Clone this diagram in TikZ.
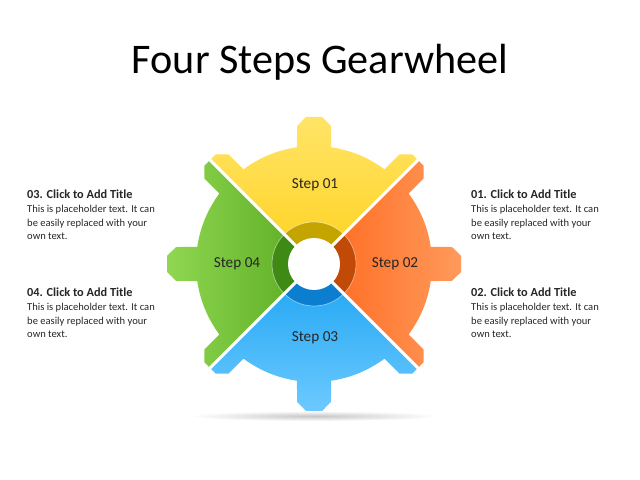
\documentclass[tikz,border=0pt]{standalone}
\usepackage{fontspec}
\setmainfont{Carlito}
\definecolor{yellowA}{RGB}{255,228,105}
\definecolor{yellowB}{RGB}{255,210,30}
\definecolor{yellowR}{RGB}{196,165,0}
\definecolor{orangeA}{RGB}{255,104,30}
\definecolor{orangeB}{RGB}{255,155,92}
\definecolor{orangeR}{RGB}{192,74,6}
\definecolor{blueA}{RGB}{26,163,242}
\definecolor{blueB}{RGB}{110,202,255}
\definecolor{blueR}{RGB}{11,126,207}
\definecolor{greenA}{RGB}{145,216,82}
\definecolor{greenB}{RGB}{88,170,32}
\definecolor{greenR}{RGB}{62,138,20}
\tikzset{
  steplabel/.style={font=\fontsize{13}{15}\selectfont, text=black!85},
  infotext/.style={anchor=north west, align=left, inner sep=0pt,
    font=\fontsize{9}{11.6}\selectfont, text=black!85},
  gap/.style={white, line width=2.6pt}
}
% outline of the gear, 8 teeth
\newcommand\gearpath{(-8.29:118) \foreach \a in {0,45,...,315}{
  -- (\a-8.29:118) -- (\a-7.02:139.04) -- (\a-3.12:147.22)
  -- (\a+3.12:147.22) -- (\a+7.02:139.04) -- (\a+8.29:118)
  arc[start angle=\a+8.29, end angle=\a+36.71, radius=118]} -- cycle}
\newcommand\infohead{\fontsize{10.5}{12}\selectfont\bfseries}
\newcommand\infobody{This is placeholder text. It can\\be easily replaced with your\\own text.}
\begin{document}
\begin{tikzpicture}[x=0.03cm, y=0.03cm]
  \useasboundingbox (0,0) rectangle (640,480);
  \node (title) at (320,418) {\fontsize{36}{40}\selectfont Four Steps Gearwheel};
  % shadow
  \shade[inner color=black!22, outer color=white] (314,64) ellipse (125 and 5);
  \begin{scope}[shift={(314,216)}]
    % step 01
    \begin{scope}
      \clip (0,0) -- (45:220) -- (90:310) -- (135:220) -- cycle;
      \clip \gearpath;
      \shade[top color=yellowA, bottom color=yellowB] (-150,0) rectangle (150,150);
      \fill[yellowR] (0,0) circle (42);
    \end{scope}
    % step 02
    \begin{scope}
      \clip (0,0) -- (-45:220) -- (0:310) -- (45:220) -- cycle;
      \clip \gearpath;
      \shade[left color=orangeA, right color=orangeB] (0,-150) rectangle (150,150);
      \fill[orangeR] (0,0) circle (42);
    \end{scope}
    % step 03
    \begin{scope}
      \clip (0,0) -- (-135:220) -- (-90:310) -- (-45:220) -- cycle;
      \clip \gearpath;
      \shade[top color=blueA, bottom color=blueB] (-150,-150) rectangle (150,0);
      \fill[blueR] (0,0) circle (42);
    \end{scope}
    % step 04
    \begin{scope}
      \clip (0,0) -- (135:220) -- (180:310) -- (-135:220) -- cycle;
      \clip \gearpath;
      \shade[left color=greenA, right color=greenB] (-150,-150) rectangle (0,150);
      \fill[greenR] (0,0) circle (42);
    \end{scope}
    \draw[white, opacity=0.5, line width=0.6pt] (0,0) circle (42);
    \foreach \a in {45,135,225,315}
      \draw[gap] (\a:20) -- (\a:160);
    \fill[white] (0,0) circle (26);
    \node[steplabel] (step1) at (1,79) {Step 01};
    \node[steplabel] (step2) at (81,0) {Step 02};
    \node[steplabel] (step3) at (1,-74) {Step 03};
    \node[steplabel] (step4) at (-77,0) {Step 04};
  \end{scope}
  \node[infotext] (info1) at (471,290) {{\infohead 01. Click to Add Title}\\\infobody};
  \node[infotext] (info2) at (471,192) {{\infohead 02. Click to Add Title}\\\infobody};
  \node[infotext] (info3) at (27,290) {{\infohead 03. Click to Add Title}\\\infobody};
  \node[infotext] (info4) at (27,192) {{\infohead 04. Click to Add Title}\\\infobody};
\end{tikzpicture}
\end{document}
